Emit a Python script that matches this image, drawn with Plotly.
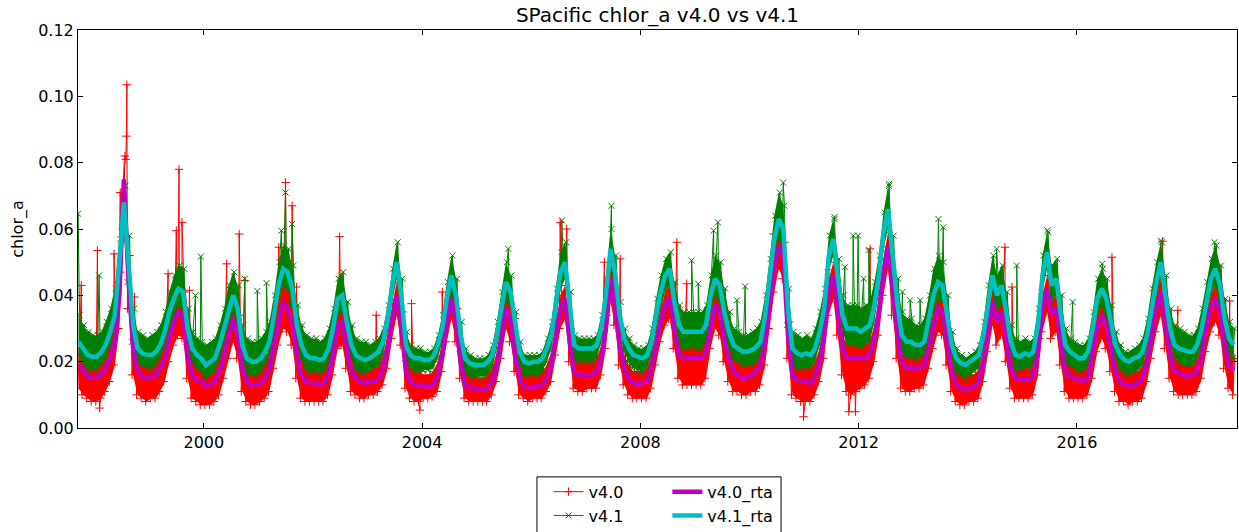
import pandas as pd
import plotly.graph_objects as go

# Monthly readings, Sep 1997 .. Nov 2018 (one row per year)
v41_rta = [
    0.026, 0.024, 0.022, 0.0215,
    0.0215, 0.023, 0.025, 0.029, 0.034, 0.050, 0.068, 0.050, 0.031, 0.024, 0.0225, 0.022,
    0.022, 0.023, 0.025, 0.029, 0.035, 0.039, 0.042, 0.041, 0.030, 0.024, 0.022, 0.021,
    0.019, 0.020, 0.021, 0.025, 0.030, 0.036, 0.040, 0.036, 0.025, 0.021, 0.020, 0.020,
    0.021, 0.023, 0.026, 0.034, 0.043, 0.048, 0.047, 0.042, 0.031, 0.025, 0.022, 0.021,
    0.021, 0.0205, 0.021, 0.024, 0.030, 0.039, 0.040, 0.032, 0.025, 0.022, 0.021, 0.0205,
    0.021, 0.022, 0.023, 0.026, 0.033, 0.043, 0.050, 0.040, 0.025, 0.022, 0.021, 0.021,
    0.0205, 0.0205, 0.0215, 0.025, 0.030, 0.039, 0.046, 0.040, 0.028, 0.021, 0.0195, 0.019,
    0.019, 0.019, 0.020, 0.022, 0.028, 0.036, 0.044, 0.041, 0.031, 0.023, 0.020, 0.0195,
    0.020, 0.020, 0.021, 0.024, 0.028, 0.037, 0.047, 0.050, 0.036, 0.025, 0.024, 0.024,
    0.024, 0.024, 0.025, 0.030, 0.040, 0.054, 0.047, 0.034, 0.027, 0.024, 0.022, 0.0215,
    0.021, 0.022, 0.026, 0.034, 0.041, 0.046, 0.048, 0.038, 0.031, 0.029, 0.029, 0.029,
    0.029, 0.029, 0.031, 0.040, 0.045, 0.043, 0.035, 0.029, 0.025, 0.024, 0.023, 0.023,
    0.0235, 0.0245, 0.026, 0.034, 0.045, 0.057, 0.063, 0.060, 0.036, 0.024, 0.0225, 0.022,
    0.0225, 0.022, 0.024, 0.029, 0.036, 0.052, 0.057, 0.045, 0.034, 0.030, 0.030, 0.030,
    0.029, 0.030, 0.031, 0.037, 0.046, 0.059, 0.066, 0.052, 0.038, 0.028, 0.026, 0.026,
    0.025, 0.025, 0.026, 0.033, 0.040, 0.044, 0.043, 0.034, 0.025, 0.021, 0.0195, 0.019,
    0.020, 0.021, 0.022, 0.028, 0.037, 0.046, 0.040, 0.043, 0.035, 0.026, 0.022, 0.0215,
    0.0225, 0.022, 0.023, 0.031, 0.046, 0.053, 0.043, 0.045, 0.034, 0.025, 0.023, 0.022,
    0.021, 0.021, 0.023, 0.030, 0.039, 0.042, 0.039, 0.032, 0.025, 0.022, 0.0205, 0.020,
    0.021, 0.0215, 0.023, 0.028, 0.036, 0.044, 0.050, 0.040, 0.030, 0.025, 0.024, 0.0235,
    0.023, 0.023, 0.025, 0.030, 0.038, 0.045, 0.048, 0.043, 0.033, 0.027, 0.025,
]

v40_rta = [
    0.019, 0.017, 0.0155, 0.015,
    0.0155, 0.016, 0.018, 0.021, 0.026, 0.040, 0.075, 0.045, 0.024, 0.017, 0.0155, 0.015,
    0.0155, 0.016, 0.018, 0.021, 0.027, 0.032, 0.035, 0.034, 0.022, 0.016, 0.0145, 0.014,
    0.0125, 0.013, 0.014, 0.017, 0.022, 0.028, 0.033, 0.028, 0.018, 0.014, 0.013, 0.013,
    0.0135, 0.015, 0.018, 0.025, 0.032, 0.038, 0.036, 0.032, 0.022, 0.016, 0.014, 0.0135,
    0.0135, 0.013, 0.0135, 0.016, 0.022, 0.031, 0.032, 0.024, 0.017, 0.015, 0.014, 0.0135,
    0.014, 0.014, 0.015, 0.018, 0.024, 0.033, 0.040, 0.031, 0.017, 0.014, 0.013, 0.013,
    0.0125, 0.0125, 0.013, 0.016, 0.022, 0.032, 0.039, 0.032, 0.020, 0.013, 0.012, 0.012,
    0.0115, 0.0115, 0.012, 0.014, 0.019, 0.027, 0.036, 0.032, 0.022, 0.015, 0.0125, 0.012,
    0.0125, 0.0125, 0.013, 0.015, 0.019, 0.028, 0.036, 0.039, 0.026, 0.017, 0.016, 0.016,
    0.016, 0.016, 0.017, 0.021, 0.030, 0.045, 0.037, 0.025, 0.018, 0.015, 0.0135, 0.013,
    0.0135, 0.014, 0.018, 0.025, 0.032, 0.037, 0.039, 0.030, 0.022, 0.021, 0.021, 0.021,
    0.021, 0.021, 0.023, 0.031, 0.037, 0.035, 0.027, 0.021, 0.017, 0.016, 0.015, 0.015,
    0.016, 0.017, 0.019, 0.026, 0.037, 0.048, 0.055, 0.052, 0.028, 0.016, 0.0145, 0.014,
    0.014, 0.0135, 0.0155, 0.020, 0.028, 0.041, 0.046, 0.035, 0.024, 0.021, 0.021, 0.021,
    0.021, 0.021, 0.022, 0.027, 0.035, 0.047, 0.055, 0.041, 0.029, 0.020, 0.018, 0.018,
    0.018, 0.018, 0.019, 0.025, 0.031, 0.036, 0.035, 0.026, 0.017, 0.013, 0.012, 0.0115,
    0.012, 0.0125, 0.014, 0.020, 0.029, 0.038, 0.032, 0.035, 0.027, 0.018, 0.015, 0.0145,
    0.0145, 0.0145, 0.0155, 0.023, 0.036, 0.042, 0.034, 0.036, 0.026, 0.017, 0.0155, 0.015,
    0.0145, 0.014, 0.015, 0.022, 0.030, 0.034, 0.031, 0.024, 0.017, 0.014, 0.013, 0.0125,
    0.013, 0.0135, 0.015, 0.020, 0.028, 0.036, 0.041, 0.031, 0.022, 0.017, 0.0165, 0.016,
    0.0155, 0.016, 0.017, 0.022, 0.030, 0.036, 0.039, 0.035, 0.025, 0.019, 0.0175,
]

# v4.1 daily values: monthly low / high of the band
v41_lo = [
    0.022, 0.020, 0.018, 0.0175,
    0.0175, 0.019, 0.021, 0.025, 0.030, 0.045, 0.062, 0.044, 0.026, 0.020, 0.019, 0.018,
    0.018, 0.019, 0.021, 0.025, 0.030, 0.034, 0.037, 0.036, 0.026, 0.020, 0.018, 0.017,
    0.015, 0.016, 0.017, 0.021, 0.026, 0.031, 0.035, 0.031, 0.021, 0.017, 0.016, 0.016,
    0.017, 0.019, 0.022, 0.029, 0.038, 0.043, 0.042, 0.037, 0.027, 0.021, 0.018, 0.017,
    0.017, 0.0165, 0.017, 0.020, 0.026, 0.034, 0.035, 0.028, 0.021, 0.018, 0.017, 0.0165,
    0.017, 0.018, 0.019, 0.022, 0.029, 0.038, 0.045, 0.035, 0.021, 0.018, 0.017, 0.017,
    0.0175, 0.0175, 0.018, 0.021, 0.026, 0.034, 0.041, 0.035, 0.024, 0.017, 0.016, 0.015,
    0.0155, 0.0155, 0.016, 0.018, 0.024, 0.031, 0.039, 0.036, 0.027, 0.019, 0.016, 0.016,
    0.016, 0.016, 0.017, 0.020, 0.024, 0.032, 0.042, 0.045, 0.031, 0.021, 0.020, 0.020,
    0.020, 0.020, 0.021, 0.026, 0.035, 0.048, 0.042, 0.030, 0.023, 0.020, 0.018, 0.0175,
    0.017, 0.018, 0.022, 0.029, 0.036, 0.041, 0.043, 0.033, 0.026, 0.024, 0.024, 0.024,
    0.024, 0.024, 0.026, 0.035, 0.040, 0.038, 0.030, 0.024, 0.021, 0.020, 0.019, 0.019,
    0.019, 0.020, 0.022, 0.029, 0.040, 0.052, 0.057, 0.054, 0.031, 0.020, 0.018, 0.018,
    0.018, 0.018, 0.020, 0.025, 0.031, 0.047, 0.052, 0.040, 0.029, 0.025, 0.025, 0.025,
    0.024, 0.025, 0.026, 0.032, 0.041, 0.054, 0.060, 0.047, 0.033, 0.023, 0.021, 0.021,
    0.021, 0.021, 0.022, 0.028, 0.035, 0.039, 0.038, 0.029, 0.021, 0.017, 0.016, 0.015,
    0.016, 0.017, 0.018, 0.024, 0.032, 0.041, 0.035, 0.038, 0.030, 0.022, 0.018, 0.0175,
    0.018, 0.018, 0.019, 0.026, 0.041, 0.048, 0.038, 0.040, 0.029, 0.021, 0.019, 0.018,
    0.017, 0.017, 0.019, 0.025, 0.034, 0.037, 0.034, 0.028, 0.021, 0.018, 0.017, 0.016,
    0.017, 0.0175, 0.019, 0.024, 0.031, 0.039, 0.045, 0.035, 0.026, 0.021, 0.020, 0.019,
    0.019, 0.019, 0.021, 0.025, 0.033, 0.040, 0.043, 0.038, 0.028, 0.023, 0.021,
]

v41_hi = [
    0.034, 0.031, 0.029, 0.028,
    0.028, 0.029, 0.032, 0.036, 0.042, 0.057, 0.073, 0.058, 0.036, 0.029, 0.028, 0.027,
    0.028, 0.029, 0.031, 0.035, 0.041, 0.046, 0.049, 0.048, 0.036, 0.029, 0.027, 0.026,
    0.025, 0.026, 0.027, 0.031, 0.036, 0.043, 0.047, 0.043, 0.031, 0.027, 0.026, 0.026,
    0.027, 0.029, 0.032, 0.040, 0.050, 0.055, 0.054, 0.049, 0.037, 0.031, 0.028, 0.027,
    0.027, 0.026, 0.027, 0.030, 0.036, 0.045, 0.047, 0.038, 0.031, 0.027, 0.026, 0.026,
    0.025, 0.026, 0.027, 0.030, 0.037, 0.048, 0.056, 0.045, 0.029, 0.025, 0.024, 0.024,
    0.023, 0.023, 0.024, 0.028, 0.034, 0.044, 0.052, 0.045, 0.032, 0.024, 0.022, 0.021,
    0.021, 0.021, 0.022, 0.025, 0.032, 0.041, 0.050, 0.046, 0.035, 0.026, 0.022, 0.022,
    0.022, 0.022, 0.023, 0.027, 0.032, 0.042, 0.053, 0.056, 0.041, 0.028, 0.027, 0.027,
    0.027, 0.027, 0.028, 0.034, 0.045, 0.060, 0.052, 0.038, 0.030, 0.027, 0.025, 0.024,
    0.024, 0.025, 0.030, 0.039, 0.046, 0.051, 0.053, 0.044, 0.037, 0.035, 0.035, 0.035,
    0.035, 0.035, 0.037, 0.046, 0.052, 0.050, 0.042, 0.035, 0.030, 0.029, 0.028, 0.028,
    0.029, 0.030, 0.032, 0.040, 0.051, 0.064, 0.071, 0.067, 0.042, 0.029, 0.028, 0.027,
    0.028, 0.027, 0.030, 0.035, 0.042, 0.058, 0.063, 0.051, 0.040, 0.037, 0.037, 0.037,
    0.036, 0.037, 0.038, 0.044, 0.052, 0.065, 0.073, 0.058, 0.045, 0.035, 0.033, 0.033,
    0.031, 0.031, 0.033, 0.040, 0.048, 0.052, 0.050, 0.040, 0.029, 0.024, 0.022, 0.021,
    0.022, 0.023, 0.025, 0.032, 0.043, 0.052, 0.046, 0.049, 0.041, 0.031, 0.027, 0.026,
    0.027, 0.026, 0.027, 0.036, 0.052, 0.059, 0.049, 0.051, 0.040, 0.030, 0.027, 0.026,
    0.025, 0.025, 0.027, 0.035, 0.045, 0.048, 0.045, 0.037, 0.029, 0.025, 0.023, 0.023,
    0.024, 0.025, 0.027, 0.033, 0.042, 0.050, 0.056, 0.046, 0.036, 0.031, 0.030, 0.029,
    0.028, 0.028, 0.030, 0.036, 0.044, 0.051, 0.055, 0.049, 0.039, 0.032, 0.030,
]

# v4.0 daily values: monthly low / high of the band
v40_lo = [
    0.012, 0.010, 0.009, 0.008,
    0.008, 0.009, 0.011, 0.014, 0.019, 0.030, 0.060, 0.036, 0.016, 0.010, 0.009, 0.008,
    0.009, 0.009, 0.011, 0.014, 0.020, 0.025, 0.028, 0.027, 0.015, 0.009, 0.008, 0.007,
    0.007, 0.007, 0.008, 0.010, 0.015, 0.021, 0.026, 0.021, 0.011, 0.008, 0.007, 0.007,
    0.008, 0.009, 0.011, 0.018, 0.025, 0.030, 0.029, 0.025, 0.015, 0.009, 0.008, 0.008,
    0.008, 0.008, 0.008, 0.010, 0.016, 0.024, 0.025, 0.018, 0.011, 0.010, 0.009, 0.009,
    0.010, 0.010, 0.011, 0.013, 0.018, 0.027, 0.034, 0.025, 0.012, 0.009, 0.008, 0.008,
    0.009, 0.009, 0.0095, 0.011, 0.017, 0.026, 0.033, 0.026, 0.015, 0.009, 0.008, 0.008,
    0.008, 0.008, 0.008, 0.010, 0.014, 0.021, 0.030, 0.026, 0.017, 0.010, 0.009, 0.008,
    0.009, 0.009, 0.009, 0.011, 0.014, 0.022, 0.030, 0.033, 0.020, 0.012, 0.011, 0.011,
    0.012, 0.012, 0.012, 0.016, 0.024, 0.038, 0.031, 0.019, 0.013, 0.010, 0.009, 0.009,
    0.009, 0.009, 0.012, 0.019, 0.026, 0.031, 0.033, 0.024, 0.015, 0.013, 0.013, 0.013,
    0.013, 0.013, 0.015, 0.024, 0.030, 0.028, 0.020, 0.014, 0.011, 0.011, 0.010, 0.010,
    0.011, 0.011, 0.013, 0.019, 0.030, 0.041, 0.048, 0.045, 0.021, 0.010, 0.009, 0.008,
    0.008, 0.008, 0.010, 0.014, 0.021, 0.034, 0.039, 0.028, 0.016, 0.011, 0.010, 0.011,
    0.012, 0.013, 0.015, 0.020, 0.028, 0.040, 0.048, 0.034, 0.021, 0.012, 0.011, 0.011,
    0.012, 0.012, 0.013, 0.018, 0.024, 0.029, 0.028, 0.019, 0.011, 0.008, 0.007, 0.007,
    0.008, 0.008, 0.009, 0.014, 0.023, 0.031, 0.025, 0.028, 0.020, 0.012, 0.009, 0.009,
    0.009, 0.009, 0.010, 0.016, 0.029, 0.035, 0.027, 0.029, 0.019, 0.011, 0.009, 0.009,
    0.009, 0.009, 0.010, 0.015, 0.023, 0.027, 0.024, 0.017, 0.011, 0.008, 0.008, 0.007,
    0.008, 0.008, 0.009, 0.014, 0.021, 0.029, 0.034, 0.024, 0.015, 0.011, 0.010, 0.010,
    0.010, 0.010, 0.011, 0.015, 0.023, 0.029, 0.032, 0.028, 0.018, 0.012, 0.010,
]

v40_hi = [
    0.024, 0.022, 0.020, 0.019,
    0.021, 0.022, 0.024, 0.027, 0.032, 0.047, 0.082, 0.052, 0.029, 0.022, 0.020, 0.020,
    0.021, 0.022, 0.024, 0.027, 0.033, 0.039, 0.042, 0.041, 0.028, 0.021, 0.020, 0.019,
    0.018, 0.019, 0.020, 0.023, 0.028, 0.034, 0.039, 0.034, 0.024, 0.020, 0.019, 0.019,
    0.019, 0.021, 0.024, 0.031, 0.038, 0.044, 0.042, 0.038, 0.028, 0.022, 0.020, 0.019,
    0.019, 0.018, 0.019, 0.021, 0.027, 0.037, 0.038, 0.030, 0.022, 0.020, 0.019, 0.018,
    0.018, 0.018, 0.019, 0.022, 0.028, 0.037, 0.044, 0.035, 0.021, 0.018, 0.017, 0.017,
    0.016, 0.016, 0.017, 0.020, 0.026, 0.036, 0.043, 0.036, 0.024, 0.017, 0.016, 0.016,
    0.015, 0.015, 0.016, 0.018, 0.023, 0.031, 0.040, 0.036, 0.026, 0.019, 0.016, 0.016,
    0.016, 0.016, 0.017, 0.019, 0.023, 0.032, 0.040, 0.043, 0.030, 0.021, 0.020, 0.020,
    0.020, 0.020, 0.021, 0.025, 0.034, 0.049, 0.041, 0.029, 0.022, 0.019, 0.017, 0.017,
    0.017, 0.018, 0.022, 0.029, 0.036, 0.041, 0.043, 0.034, 0.026, 0.025, 0.025, 0.025,
    0.025, 0.025, 0.027, 0.035, 0.041, 0.039, 0.031, 0.025, 0.021, 0.020, 0.019, 0.019,
    0.020, 0.021, 0.023, 0.030, 0.041, 0.052, 0.059, 0.056, 0.032, 0.020, 0.019, 0.018,
    0.018, 0.018, 0.020, 0.024, 0.032, 0.045, 0.050, 0.039, 0.028, 0.025, 0.025, 0.025,
    0.025, 0.025, 0.026, 0.031, 0.039, 0.051, 0.059, 0.045, 0.033, 0.024, 0.022, 0.022,
    0.022, 0.022, 0.023, 0.029, 0.035, 0.040, 0.039, 0.030, 0.021, 0.017, 0.016, 0.015,
    0.016, 0.016, 0.018, 0.024, 0.033, 0.042, 0.036, 0.039, 0.031, 0.022, 0.019, 0.018,
    0.019, 0.019, 0.020, 0.027, 0.040, 0.046, 0.038, 0.040, 0.030, 0.021, 0.020, 0.019,
    0.018, 0.018, 0.019, 0.026, 0.034, 0.038, 0.035, 0.028, 0.021, 0.018, 0.017, 0.016,
    0.017, 0.017, 0.019, 0.024, 0.032, 0.040, 0.045, 0.035, 0.026, 0.021, 0.020, 0.020,
    0.019, 0.020, 0.021, 0.026, 0.034, 0.040, 0.043, 0.039, 0.029, 0.023, 0.021,
]

# Isolated daily excursions
v40_spike_dates = [
    "1997-10-03", "1998-01-19", "1998-02-03", "1998-05-10", "1998-06-21", "1998-07-28",
    "1998-08-01", "1998-08-04", "1998-09-24", "1999-05-07", "1999-07-01", "1999-07-19",
    "1999-08-08", "1999-09-27", "2000-06-02", "2000-08-25", "2000-10-01", "2001-05-17",
    "2001-07-01", "2001-08-14", "2001-09-12", "2002-06-28", "2003-02-28", "2003-10-22",
    "2003-12-17", "2004-05-15", "2005-09-12", "2006-07-13", "2006-08-26", "2007-05-05",
    "2007-08-19", "2008-09-01", "2008-11-06", "2010-06-10", "2010-12-28", "2011-10-27",
    "2011-12-10", "2012-03-17", "2014-09-06", "2014-10-23", "2016-08-22", "2017-07-27",
    "2017-11-06", "2018-10-19",
]
v40_spike_values = [
    0.043, 0.0535, 0.006, 0.0525, 0.071, 0.081,
    0.088, 0.1035, 0.0395, 0.0465, 0.0595, 0.078,
    0.062, 0.0415, 0.0495, 0.0585, 0.0445, 0.0545,
    0.074, 0.067, 0.0425, 0.0577, 0.034, 0.0375,
    0.0054, 0.041, 0.033, 0.062, 0.060, 0.050,
    0.051, 0.056, 0.0435, 0.0585, 0.0034, 0.0049,
    0.0049, 0.054, 0.0545, 0.0425, 0.0515, 0.0563,
    0.0355, 0.0383,
]

v41_spike_dates = [
    "1997-09-11", "1998-01-30", "1998-07-25", "1999-11-06", "1999-12-12", "2000-10-01",
    "2000-12-24", "2001-02-24", "2001-06-03", "2001-07-01", "2001-08-14", "2005-07-31",
    "2006-07-24", "2007-06-21", "2008-12-09", "2009-01-22", "2009-05-05", "2009-06-03",
    "2009-10-08", "2009-12-02", "2010-08-14", "2011-07-23", "2011-09-30", "2011-11-25",
    "2011-12-28", "2012-02-03", "2012-03-08", "2012-07-23", "2012-10-20", "2012-12-10",
    "2013-02-15", "2013-06-18", "2013-07-20", "2014-07-12", "2014-11-24", "2015-06-17",
    "2015-12-03", "2016-06-18", "2017-07-16", "2018-07-09",
]
v41_spike_values = [
    0.0646, 0.046, 0.073, 0.040, 0.0517, 0.045,
    0.0413, 0.0437, 0.0595, 0.071, 0.0615, 0.054,
    0.0626, 0.067, 0.0505, 0.0435, 0.0595, 0.062,
    0.0385, 0.0427, 0.074, 0.0636, 0.0485, 0.058,
    0.058, 0.045, 0.0537, 0.0736, 0.041, 0.0385,
    0.0385, 0.063, 0.0605, 0.054, 0.049, 0.0596,
    0.038, 0.0495, 0.0565, 0.056,
]

TITLE = "SPacific chlor_a v4.0 vs v4.1"
Y_TICKS = [0.00, 0.02, 0.04, 0.06, 0.08, 0.10, 0.12]

# ---------------------------------------------------------------------------
months = pd.date_range("1997-09-01", periods=len(v41_rta), freq="MS")
mid = months + pd.Timedelta(days=14)


def band(lo, hi, sdates, svals):
    pts = []
    for m, a, b in zip(months, lo, hi):
        pts.append((m + pd.Timedelta(days=7), a))
        pts.append((m + pd.Timedelta(days=21), b))
    pts += [(pd.Timestamp(d), v) for d, v in zip(sdates, svals)]
    pts.sort(key=lambda p: p[0])
    return [p[0] for p in pts], [p[1] for p in pts]


x40, y40 = band(v40_lo, v40_hi, v40_spike_dates, v40_spike_values)
x41, y41 = band(v41_lo, v41_hi, v41_spike_dates, v41_spike_values)

RED, GREEN, MAG, CYAN = "#ff0000", "#008000", "#bf00bf", "#00bfbf"
FONT = "DejaVu Sans"
fig = go.Figure()


def add_band(lo, hi, color):
    # solid core of the dense daily band (between the monthly low and high)
    fig.add_trace(go.Scatter(x=mid, y=lo, mode="lines", line=dict(width=0, color=color),
                             showlegend=False, hoverinfo="skip"))
    fig.add_trace(go.Scatter(x=mid, y=hi, mode="lines", line=dict(width=0, color=color),
                             fill="tonexty", fillcolor=color, showlegend=False,
                             hoverinfo="skip"))


add_band(v40_lo, v40_hi, RED)
fig.add_trace(go.Scatter(
    x=x40, y=y40, name="v4.0", mode="lines+markers", legend="legend",
    line=dict(color=RED, width=1),
    marker=dict(symbol="cross-thin", size=6, line=dict(color=RED, width=1)),
))
add_band(v41_lo, v41_hi, GREEN)
fig.add_trace(go.Scatter(
    x=x41, y=y41, name="v4.1", mode="lines+markers", legend="legend",
    line=dict(color=GREEN, width=1),
    marker=dict(symbol="x-thin", size=6, line=dict(color=GREEN, width=1)),
))
fig.add_trace(go.Scatter(
    x=mid, y=v40_rta, name="v4.0_rta", mode="lines", legend="legend2",
    line=dict(color=MAG, width=4.5),
))
fig.add_trace(go.Scatter(
    x=mid, y=v41_rta, name="v4.1_rta", mode="lines", legend="legend2",
    line=dict(color=CYAN, width=4.5),
))

axis_common = dict(
    showline=True, linecolor="black", linewidth=1, mirror="ticks",
    ticks="inside", ticklen=5, tickcolor="black", showgrid=False, zeroline=False,
    tickfont=dict(family=FONT, size=16, color="black"), automargin=False,
)
fig.update_xaxes(
    type="date", range=["1997-09-11", "2018-12-07"],
    tick0="2000-01-01", dtick="M48", tickformat="%Y", **axis_common,
)
fig.update_yaxes(
    range=[0, 0.12], tickvals=Y_TICKS, tickformat=".2f",
    title=dict(text="chlor_a", font=dict(family=FONT, size=16, color="black"), standoff=10),
    **axis_common,
)

leg_common = dict(
    yanchor="top", xanchor="left", bgcolor="rgba(0,0,0,0)", borderwidth=0,
    font=dict(family=FONT, size=16, color="black"), tracegroupgap=0, itemwidth=30,
    orientation="v", traceorder="normal",
)
fig.update_layout(
    width=1239, height=532,
    margin=dict(l=78, r=2, t=30, b=104, autoexpand=False),
    paper_bgcolor="white", plot_bgcolor="white",
    title=dict(text=TITLE, x=0.5, xref="paper", xanchor="center",
               y=1 - 15 / 532, yref="container", yanchor="middle",
               font=dict(family=FONT, size=20, color="black")),
    font=dict(family=FONT, size=16, color="black"),
    legend=dict(x=0.406, y=-0.1175, **leg_common),
    legend2=dict(x=0.5085, y=-0.1175, **leg_common),
    shapes=[dict(type="rect", xref="paper", yref="paper", x0=0.396, x1=0.6066,
                 y0=-0.35, y1=-0.1228, line=dict(color="black", width=1))],
    showlegend=True,
)

fig.write_html(
    "out.html",
    config={"responsive": False, "displayModeBar": False},
    post_script="document.body.style.margin='0px';document.body.style.overflow='hidden';",
)
